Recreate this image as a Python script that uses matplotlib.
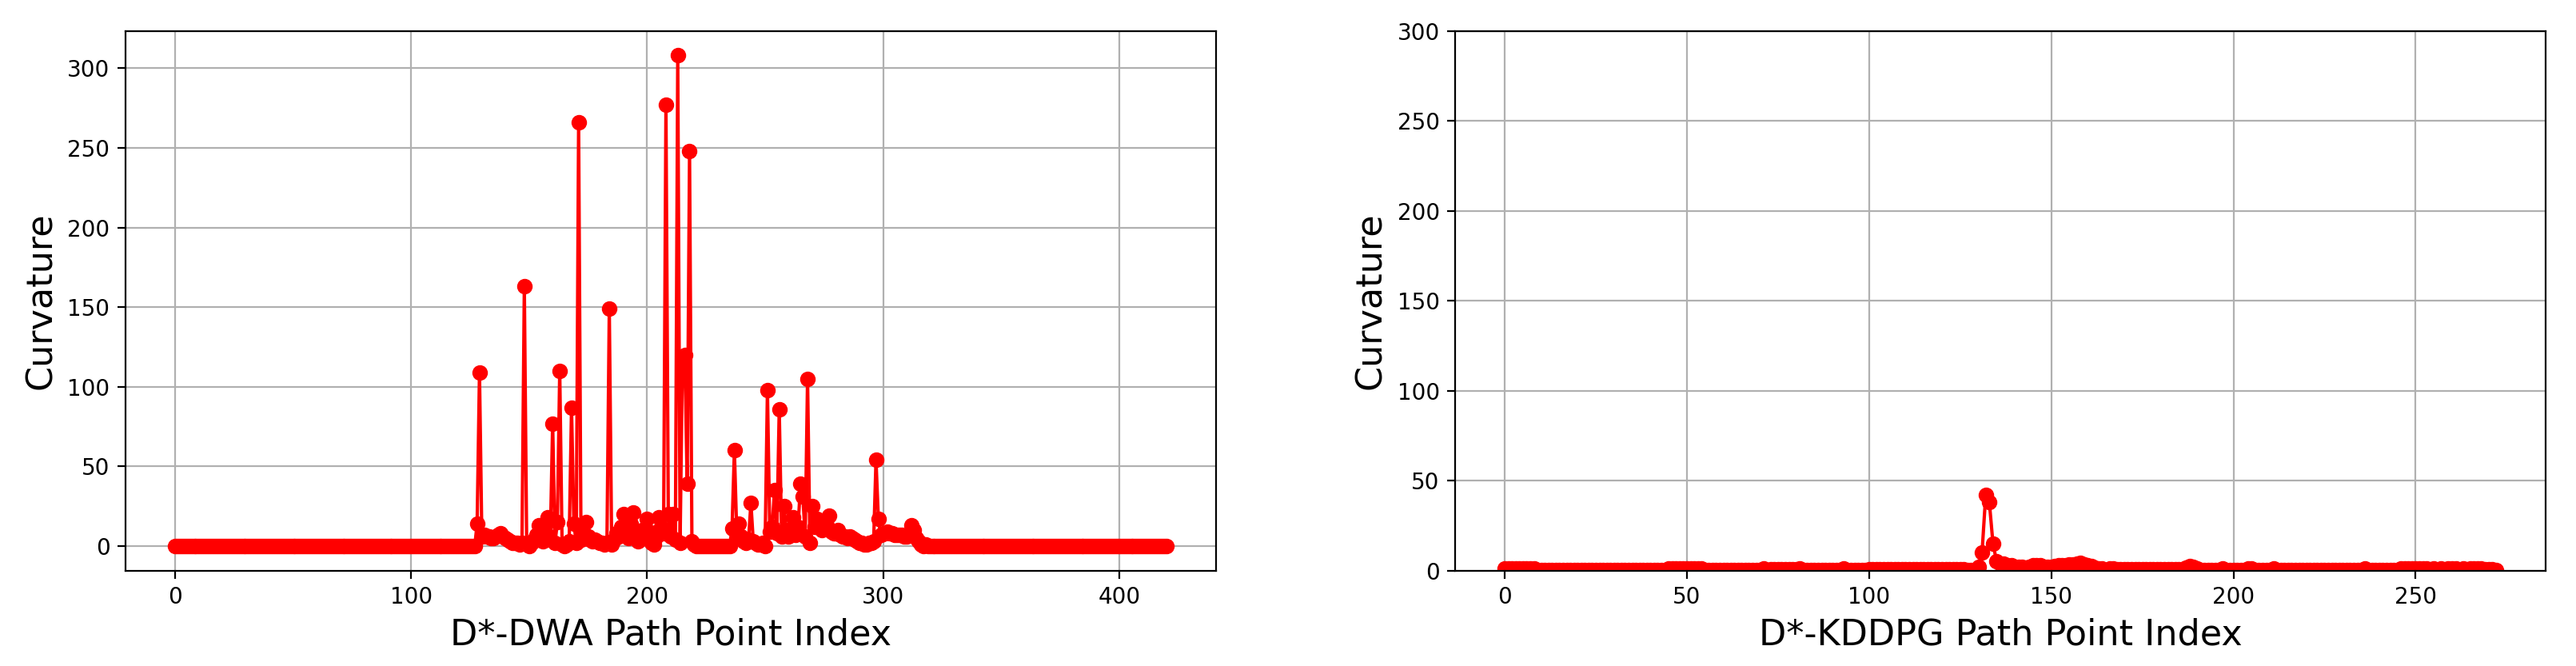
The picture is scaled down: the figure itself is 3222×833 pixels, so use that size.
import matplotlib
matplotlib.use("Agg")
from matplotlib import pyplot as plt

# Curvature along the D*-DWA path
# points 0-127: straight part of the path
dwa_start = [0, 0, 0, 0, 0, 0, 0, 0, 0, 0, 0, 0, 0, 0, 0, 0,
             0, 0, 0, 0, 0, 0, 0, 0, 0, 0, 0, 0, 0, 0, 0, 0,
             0, 0, 0, 0, 0, 0, 0, 0, 0, 0, 0, 0, 0, 0, 0, 0,
             0, 0, 0, 0, 0, 0, 0, 0, 0, 0, 0, 0, 0, 0, 0, 0,
             0, 0, 0, 0, 0, 0, 0, 0, 0, 0, 0, 0, 0, 0, 0, 0,
             0, 0, 0, 0, 0, 0, 0, 0, 0, 0, 0, 0, 0, 0, 0, 0,
             0, 0, 0, 0, 0, 0, 0, 0, 0, 0, 0, 0, 0, 0, 0, 0,
             0, 0, 0, 0, 0, 0, 0, 0, 0, 0, 0, 0, 0, 0, 0, 0]
# points 128-320: the part with the spikes
dwa_peaks = [14, 109, 6, 7, 6, 6, 5, 5, 6, 7,
             8, 6, 5, 4, 3, 2, 2, 2, 1, 2,
             163, 1, 0, 2, 4, 7, 13, 6, 3, 9,
             18, 4, 77, 2, 15, 110, 1, 0, 1, 3,
             87, 14, 2, 266, 4, 8, 15, 6, 4, 3,
             4, 3, 2, 2, 1, 2, 149, 1, 4, 8,
             6, 12, 20, 9, 5, 14, 21, 8, 3, 6,
             10, 5, 17, 9, 2, 1, 6, 18, 12, 8,
             277, 20, 6, 20, 4, 308, 2, 119, 120, 39,
             248, 3, 1, 0, 0, 0, 0, 0, 0, 0,
             0, 0, 0, 0, 0, 0, 0, 0, 11, 60,
             8, 14, 6, 3, 2, 4, 27, 3, 2, 1,
             1, 2, 0, 98, 9, 12, 35, 8, 86, 6,
             25, 10, 6, 8, 18, 7, 12, 39, 31, 6,
             105, 2, 25, 12, 17, 14, 10, 11, 13, 19,
             9, 8, 8, 10, 7, 6, 6, 5, 6, 5,
             4, 3, 2, 2, 1, 1, 2, 2, 3, 54,
             17, 7, 8, 8, 9, 8, 8, 7, 7, 7,
             7, 6, 6, 7, 13, 10, 5, 3, 1, 0,
             1, 0, 0]
# points 321-420: straight again
dwa_end = [0, 0, 0, 0, 0, 0, 0, 0, 0, 0, 0, 0, 0, 0, 0, 0, 0, 0, 0, 0,
           0, 0, 0, 0, 0, 0, 0, 0, 0, 0, 0, 0, 0, 0, 0, 0, 0, 0, 0, 0,
           0, 0, 0, 0, 0, 0, 0, 0, 0, 0, 0, 0, 0, 0, 0, 0, 0, 0, 0, 0,
           0, 0, 0, 0, 0, 0, 0, 0, 0, 0, 0, 0, 0, 0, 0, 0, 0, 0, 0, 0,
           0, 0, 0, 0, 0, 0, 0, 0, 0, 0, 0, 0, 0, 0, 0, 0, 0, 0, 0, 0]

# Curvature along the D*-KDDPG path
# points 0-129
kddpg_start = [1.0, 1.0, 1.0, 1.0, 1.0, 1.0, 1.0, 1.0, 1.0,
               0.3, 0.3, 0.3, 0.3, 0.3, 0.3, 0.3, 0.3, 0.3, 0.3, 0.3, 0.3,
               0.3, 0.3, 0.3, 0.3, 0.3, 0.3, 0.3, 0.3, 0.3, 0.3, 0.3, 0.3,
               0.3, 0.3, 0.3, 0.3, 0.3, 0.3, 0.3, 0.3, 0.3, 0.3, 0.3, 0.3,
               1.2, 1.2, 1.2, 1.2, 1.2, 1.2, 1.2, 1.2, 1.2, 1.2,
               0.3, 0.3, 0.3, 0.3, 0.3, 0.3, 0.3, 0.3, 0.3, 0.3, 0.3, 0.3,
               0.3, 0.3, 0.3, 0.3,
               1.0, 0.3, 0.9, 0.9, 0.9, 0.9, 0.9, 0.9, 0.9, 0.9, 1.2,
               0.3, 0.3, 0.3, 0.3, 0.3, 0.3, 0.3, 0.3, 0.3, 0.3, 0.3,
               1.0, 0.3, 0.3, 0.3, 0.3, 0.3, 0.3,
               0.8, 0.8, 0.8, 0.8, 0.8, 0.8, 0.8, 0.8, 0.8, 0.8, 0.8, 0.8,
               0.8, 0.8, 0.8, 0.8, 0.8, 0.8, 0.8, 0.8, 0.8, 0.8, 0.8, 0.8,
               0.8, 0.8, 0.8,
               0.5, 0.5, 0.5]
# points 130-167: the single peak
kddpg_peak = [2, 10, 42, 38, 15, 5, 4, 4, 3, 3,
              2, 2, 2, 1.5, 2, 3, 3, 3, 2, 2,
              2, 2.5, 3, 3, 3, 3.5, 3.5, 4, 4.5, 3.5,
              3, 2.5, 1.5, 1, 1, 0.5, 1, 1.2]
# points 168-272
kddpg_end = [0.8, 0.8, 0.8, 0.8, 0.8, 0.8, 0.8, 0.8, 0.8, 0.8,
             0.8, 0.8, 0.8, 0.8, 0.8, 0.8, 0.8, 0.8, 0.8,
             1.5, 2.5, 2.0, 1.2,
             0.5, 0.5, 0.5, 0.5, 0.5, 0.5, 1.2,
             0.5, 0.5, 0.5, 0.5, 0.5, 0.5, 1.0, 1.2,
             0.5, 0.5, 0.5, 0.5, 0.5, 1.0,
             0.3, 0.3, 0.3, 0.3, 0.3, 0.3, 0.3, 0.3, 0.3, 0.3, 0.3, 0.3,
             0.3, 0.3, 0.3, 0.3, 0.3, 0.3, 0.3, 0.3, 0.3, 0.3, 0.3, 0.3,
             1.0, 0.3, 0.3, 0.3, 0.3, 0.3, 0.3, 0.3, 0.3, 0.3,
             1.0, 1.0, 1.0, 1.0, 1.0, 1.0, 1.0, 1.0,
             0.6, 1.2, 0.5, 1.2, 0.6, 1.2, 1.2, 1.2, 0.5, 1.2,
             0.6, 1.3, 1.0, 1.0, 1.0, 0.8, 0.8, 0.8, 0.5]

curv_dwa = dwa_start + dwa_peaks + dwa_end
curv_kddpg = kddpg_start + kddpg_peak + kddpg_end
idx_dwa = list(range(len(curv_dwa)))
idx_kddpg = list(range(len(curv_kddpg)))

fig = plt.figure(figsize=(16.11, 4.165), dpi=200)

# left: D*-DWA
ax1 = fig.add_axes([0.0487, 0.1433, 0.4233, 0.8101])
ax1.plot(idx_dwa, curv_dwa, marker="o", color="r")
ax1.set_xlabel("D*-DWA Path Point Index", fontsize=16)
ax1.set_ylabel("Curvature", fontsize=16)
ax1.grid(True)

# right: D*-KDDPG, same y range as the worst case
ax2 = fig.add_axes([0.5649, 0.1433, 0.4232, 0.8101])
ax2.plot(idx_kddpg, curv_kddpg, marker="o", color="r")
ax2.set_ylim(0, 300)
ax2.set_xlabel("D*-KDDPG Path Point Index", fontsize=16)
ax2.set_ylabel("Curvature", fontsize=16)
ax2.grid(True)

fig.savefig("out.png", dpi=200)
